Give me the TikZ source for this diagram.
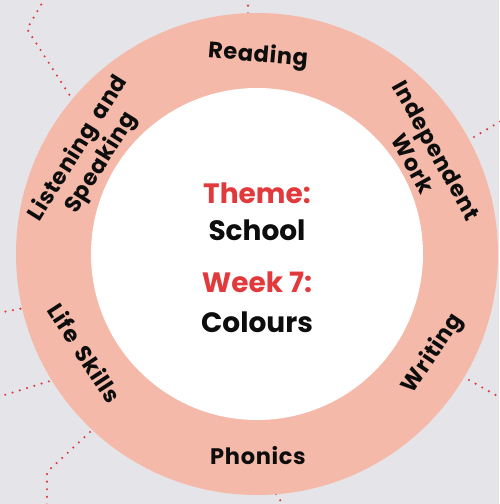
\documentclass[tikz,border=0pt]{standalone}
\usepackage{fontspec}
\setmainfont{Poppins}
\newfontfamily\ringfont{Poppins}[LetterSpace=3, WordSpace=1.6]
\definecolor{bgGray}{HTML}{E4E4E9}
\definecolor{ringSalmon}{HTML}{F4B9A8}
\definecolor{themeRed}{HTML}{E23A3C}

\begin{document}
\begin{tikzpicture}[x=1pt, y=-1pt,
    trail/.style={themeRed, line width=2.4pt, line cap=round, dash pattern=on 0pt off 7.6pt},
    ringlabel/.style={font=\ringfont\fontsize{22.5}{27}\selectfont\bfseries, text=black!95, align=center, inner sep=0pt},
    centrelabel/.style={font=\fontsize{28}{32}\selectfont\bfseries, text=black!95, anchor=base, inner sep=0pt}]

    % Background
    \fill[bgGray] (0,0) rectangle (499,504);
    \useasboundingbox (0,0) rectangle (499,504);

    % Dotted trails behind the ring
    \draw[trail] (45,-2) -- (27,29) -- (74,102);
    \draw[trail] (248,-2) -- (248,14);
    \draw[trail] (474,137) -- (501,121);
    \draw[trail] (-2,313) -- (24,308);
    \draw[trail] (-2,397) -- (50,381);
    \draw[trail] (90,432) -- (47,472) -- (47,506);
    \draw[trail] (469,380) -- (501,398);
    \draw[trail] (276,494) -- (284,506);

    % Ring
    \fill[ringSalmon] (257,254) circle[radius=241pt];
    \fill[white] (257,254) circle[radius=166pt];

    % Ring labels
    \node[ringlabel, rotate=-5] (reading) at (258,56) {Reading};
    \node[ringlabel, rotate=-61] (independent) at (425,157) {Independent\\Work};
    \node[ringlabel, rotate=58] (listening) at (90,156) {Listening and\\Speaking};
    \node[ringlabel, rotate=-57] (lifeskills) at (85,353) {Life Skills};
    \node[ringlabel] (phonics) at (258,456) {Phonics};
    \node[ringlabel, rotate=56] (writing) at (433,354) {Writing};

    % Centre
    \node[centrelabel, text=themeRed] (theme) at (257,203) {Theme:};
    \node[centrelabel] (school) at (257,240) {School};
    \node[centrelabel, text=themeRed] (week) at (257,292) {Week 7:};
    \node[centrelabel] (colours) at (257,332) {Colours};

\end{tikzpicture}
\end{document}
